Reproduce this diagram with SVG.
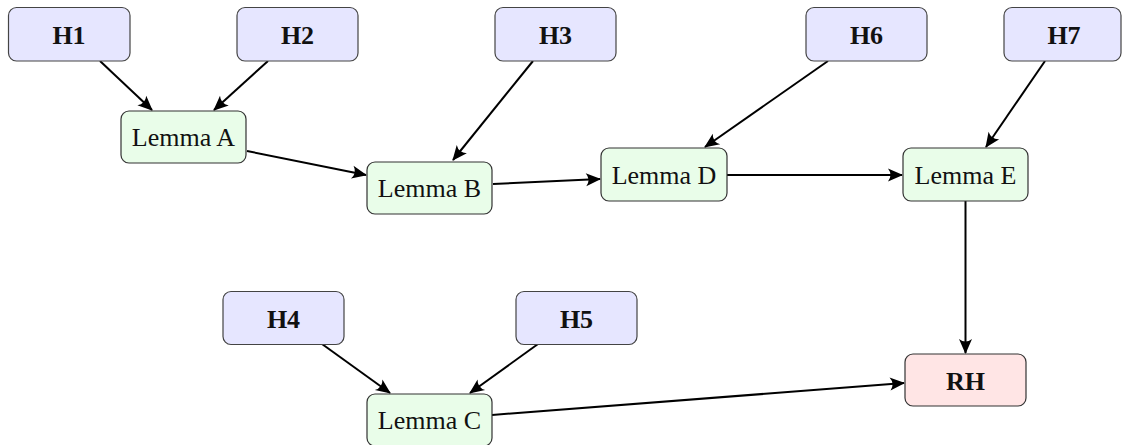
<svg xmlns="http://www.w3.org/2000/svg" width="1122" height="445" viewBox="0 0 1122 445">
<style>
.hyp rect{fill:#e6e6ff;stroke:#444;stroke-width:1.2}
.lem rect{fill:#e9fde9;stroke:#333;stroke-width:1.2}
.goal rect{fill:#ffe5e5;stroke:#333;stroke-width:1.2}
text{font-family:"Liberation Serif","DejaVu Serif",serif;font-size:26px;fill:#111;text-anchor:middle}
.hyp text,.goal text{font-weight:bold}
.edges line{stroke:#000;stroke-width:2;marker-end:url(#arr)}
</style>
<defs>
<marker id="arr" markerUnits="userSpaceOnUse" viewBox="-16 -8 18 16" refX="0" refY="0" markerWidth="18" markerHeight="16" orient="auto">
<path d="M1,0 L-14,-6.5 Q-9,0 -14,6.5 Z" fill="#000"/>
</marker>
</defs>
<g class="edges">
<line x1="100" y1="61" x2="152" y2="110"/>
<line x1="268" y1="61" x2="214" y2="110"/>
<line x1="247" y1="151" x2="366" y2="175"/>
<line x1="533" y1="61" x2="453" y2="160"/>
<line x1="493" y1="184" x2="600" y2="179"/>
<line x1="828" y1="61" x2="705" y2="147"/>
<line x1="727" y1="175" x2="902" y2="175"/>
<line x1="1045" y1="61" x2="986" y2="147"/>
<line x1="965.5" y1="201" x2="965.5" y2="353"/>
<line x1="322" y1="344" x2="390" y2="393"/>
<line x1="538" y1="344" x2="470" y2="393"/>
<line x1="492" y1="415" x2="904" y2="383"/>
</g>
<g id="H1" class="hyp"><rect x="8.5" y="7.5" width="121.5" height="53.5" rx="8"/><text x="69" y="43.5">H1</text></g>
<g id="H2" class="hyp"><rect x="237" y="7.5" width="121" height="53.5" rx="8"/><text x="297.5" y="43.5">H2</text></g>
<g id="H3" class="hyp"><rect x="495" y="7.5" width="121" height="53.5" rx="8"/><text x="555.5" y="43.5">H3</text></g>
<g id="H6" class="hyp"><rect x="806" y="7.5" width="121" height="53.5" rx="8"/><text x="866.5" y="43.5">H6</text></g>
<g id="H7" class="hyp"><rect x="1004" y="7.5" width="117" height="53.5" rx="8"/><text x="1064" y="43.5">H7</text></g>
<g id="H4" class="hyp"><rect x="223" y="291.5" width="121" height="53" rx="8"/><text x="283.5" y="327.5">H4</text></g>
<g id="H5" class="hyp"><rect x="516" y="291.5" width="121" height="53" rx="8"/><text x="576.5" y="327.5">H5</text></g>
<g id="LemmaA" class="lem"><rect x="121" y="111" width="125" height="52" rx="8"/><text x="183.5" y="146">Lemma A</text></g>
<g id="LemmaB" class="lem"><rect x="367" y="162" width="125" height="52" rx="8"/><text x="429.5" y="197">Lemma B</text></g>
<g id="LemmaD" class="lem"><rect x="601" y="148" width="126" height="53" rx="8"/><text x="664" y="183.5">Lemma D</text></g>
<g id="LemmaE" class="lem"><rect x="903" y="148" width="125" height="53" rx="8"/><text x="965.5" y="183.5">Lemma E</text></g>
<g id="LemmaC" class="lem"><rect x="367" y="394" width="125" height="52" rx="8"/><text x="429.5" y="429">Lemma C</text></g>
<g id="RH" class="goal"><rect x="905" y="354" width="121" height="52" rx="8"/><text x="965.5" y="389.5">RH</text></g>
</svg>
